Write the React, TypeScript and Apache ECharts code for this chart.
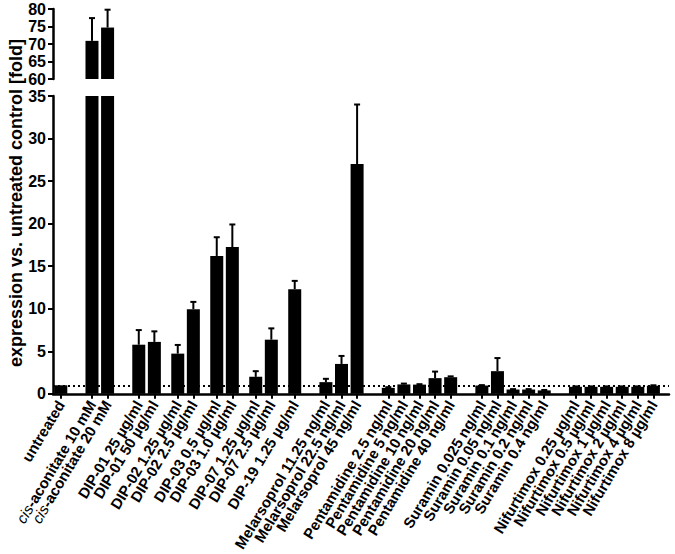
import React, { useEffect, useRef } from "react";
import * as echarts from "echarts";

// ---------- DATA ----------
const categories = [
  "untreated",
  "cis-aconitate 10 mM",
  "cis-aconitate 20 mM",
  "DIP-01 25 µg/ml",
  "DIP-01 50 µg/ml",
  "DIP-02 1.25 µg/ml",
  "DIP-02 2.5 µg/ml",
  "DIP-03 0.5 µg/ml",
  "DIP-03 1.0 µg/ml",
  "DIP-07 1.25 µg/ml",
  "DIP-07 2.5 µg/ml",
  "DIP-19 1.25 µg/ml",
  "Melarsoprol 11.25 ng/ml",
  "Melarsoprol 22.5 ng/ml",
  "Melarsoprol 45 ng/ml",
  "Pentamidine 2.5 ng/ml",
  "Pentamidine 5 ng/ml",
  "Pentamidine 10 ng/ml",
  "Pentamidine 20 ng/ml",
  "Pentamidine 40 ng/ml",
  "Suramin 0.025 ng/ml",
  "Suramin 0.05 ng/ml",
  "Suramin 0.1 ng/ml",
  "Suramin 0.2 ng/ml",
  "Suramin 0.4 ng/ml",
  "Nifurtimox 0.25 µg/ml",
  "Nifurtimox 0.5 µg/ml",
  "Nifurtimox 1 µg/ml",
  "Nifurtimox 2 µg/ml",
  "Nifurtimox 4 µg/ml",
  "Nifurtimox 8 µg/ml",
];

const means = [
  1.0, 70.9, 74.7, 5.77, 6.1, 4.72, 9.95, 16.2, 17.25, 1.99, 6.36, 12.3, 1.37,
  3.51, 27.0, 0.7, 1.1, 1.08, 1.84, 1.95, 0.97, 2.66, 0.5, 0.5, 0.4, 0.82, 0.82,
  0.82, 0.82, 0.82, 0.95,
];

const errors = [
  0, 6.5, 5.1, 1.72, 1.24, 1.02, 0.85, 2.2, 2.65, 0.67, 1.33, 0.97, 0.39, 0.94,
  7.0, 0.08, 0.1, 0.05, 0.77, 0.1, 0.05, 1.54, 0.05, 0.05, 0.05, 0.05, 0.05,
  0.05, 0.05, 0.05, 0.05,
];

const lowerTicks = [0, 35, 5]; // min, max, interval
const upperTicks = [60, 80, 5];
const referenceLevel = 1;
const yTitle = "expression vs. untreated control [fold]";

// ---------- LAYOUT ----------
// slot positions (half-bar units) on the category axis, including gaps between groups
const slotIndex = [
  1, 5, 7, 11, 13, 16, 18, 21, 23, 26, 28, 31, 35, 37, 39, 43, 45, 47, 49, 51,
  55, 57, 59, 61, 63, 67, 69, 71, 73, 75, 77,
];
const SLOT_COUNT = 80;

const axisCats: string[] = new Array(SLOT_COUNT).fill("");
slotIndex.forEach((s, i) => (axisCats[s] = categories[i]));

const FONT = "'Liberation Sans', Arial, Helvetica, sans-serif";

export default function App() {
  const ref = useRef<HTMLDivElement>(null);

  useEffect(() => {
    if (!ref.current) return;
    const chart = echarts.init(ref.current, undefined, { renderer: "svg" });

    const lowerBar: (number | null)[] = new Array(SLOT_COUNT).fill(null);
    const upperBar: (number | null)[] = new Array(SLOT_COUNT).fill(null);
    const lowerErr: number[][] = [];
    const upperErr: number[][] = [];
    means.forEach((m, i) => {
      const s = slotIndex[i];
      lowerBar[s] = m;
      if (m > upperTicks[0]) {
        upperBar[s] = m;
        if (errors[i] > 0) upperErr.push([s, m, m + errors[i]]);
      } else if (errors[i] > 0) {
        lowerErr.push([s, m, m + errors[i]]);
      }
    });

    const errRender = (params: any, api: any) => {
      const x = api.value(0);
      const p1 = api.coord([x, api.value(1)]);
      const p2 = api.coord([x, api.value(2)]);
      const st = { stroke: "#000", lineWidth: 2 };
      return {
        type: "group",
        children: [
          { type: "line", shape: { x1: p1[0], y1: p1[1], x2: p2[0], y2: p2[1] }, style: st },
          { type: "line", shape: { x1: p2[0] - 3, y1: p2[1], x2: p2[0] + 3, y2: p2[1] }, style: st },
        ],
      };
    };

    const isCat = (idx: number) => axisCats[idx] !== "";

    const yAxisCommon = {
      type: "value",
      axisLine: { show: true, lineStyle: { color: "#000", width: 2.5 } },
      axisTick: { show: true, length: 5, lineStyle: { color: "#000", width: 2 } },
      axisLabel: {
        color: "#000",
        fontWeight: "bold",
        fontSize: 16,
        fontFamily: FONT,
        margin: 7,
        showMinLabel: true,
        showMaxLabel: true,
      },
      splitLine: { show: false },
    };

    const option: any = {
      animation: false,
      backgroundColor: "#fff",
      textStyle: { fontFamily: FONT },
      grid: [
        { left: 53, top: 9, width: 616, height: 70 },
        { left: 53, top: 96, width: 616, height: 299 },
      ],
      xAxis: [
        {
          type: "category",
          gridIndex: 0,
          data: axisCats,
          boundaryGap: false,
          show: false,
        },
        {
          type: "category",
          gridIndex: 1,
          data: axisCats,
          boundaryGap: false,
          axisLine: { show: true, lineStyle: { color: "#000", width: 2.5 } },
          axisTick: {
            show: true,
            length: 5,
            interval: (idx: number) => isCat(idx),
            lineStyle: { color: "#000", width: 2 },
          },
          axisLabel: {
            interval: 0,
            hideOverlap: false,
            rotate: 59,
            color: "#000",
            fontWeight: "bold",
            fontSize: 15,
            fontFamily: FONT,
            margin: 8,
            formatter: (v: string) =>
              v.startsWith("cis") ? "{i|cis}" + v.slice(3) : v,
            rich: {
              i: {
                fontStyle: "italic",
                fontWeight: "normal",
                fontSize: 15,
                fontFamily: FONT,
                color: "#000",
              },
            },
          },
        },
      ],
      yAxis: [
        {
          ...yAxisCommon,
          gridIndex: 0,
          min: upperTicks[0],
          max: upperTicks[1],
          interval: upperTicks[2],
        },
        {
          ...yAxisCommon,
          gridIndex: 1,
          min: lowerTicks[0],
          max: lowerTicks[1],
          interval: lowerTicks[2],
        },
      ],
      series: [
        {
          type: "bar",
          xAxisIndex: 0,
          yAxisIndex: 0,
          data: upperBar,
          barWidth: 13,
          itemStyle: { color: "#000" },
          clip: true,
        },
        {
          type: "custom",
          xAxisIndex: 0,
          yAxisIndex: 0,
          data: upperErr,
          renderItem: errRender,
          encode: { x: 0, y: [1, 2] },
          z: 3,
        },
        {
          type: "bar",
          xAxisIndex: 1,
          yAxisIndex: 1,
          data: lowerBar,
          barWidth: 13,
          itemStyle: { color: "#000" },
          clip: true,
          z: 2,
          markLine: {
            silent: true,
            symbol: "none",
            label: { show: false },
            lineStyle: { color: "#000", width: 2, type: [2, 3] },
            data: [{ yAxis: referenceLevel }],
            z: 1,
          },
        },
        {
          type: "custom",
          xAxisIndex: 1,
          yAxisIndex: 1,
          data: lowerErr,
          renderItem: errRender,
          encode: { x: 0, y: [1, 2] },
          z: 3,
        },
      ],
      graphic: [
        {
          type: "text",
          x: 16,
          y: 203,
          rotation: Math.PI / 2,
          style: {
            text: yTitle,
            fill: "#000",
            font: `bold 18px ${FONT}`,
            textAlign: "center",
            textVerticalAlign: "middle",
          },
        },
      ],
    };

    chart.setOption(option);
    return () => chart.dispose();
  }, []);

  return (
    <div
      ref={ref}
      style={{ position: "fixed", left: 0, top: 0, width: 675, height: 554 }}
    />
  );
}
